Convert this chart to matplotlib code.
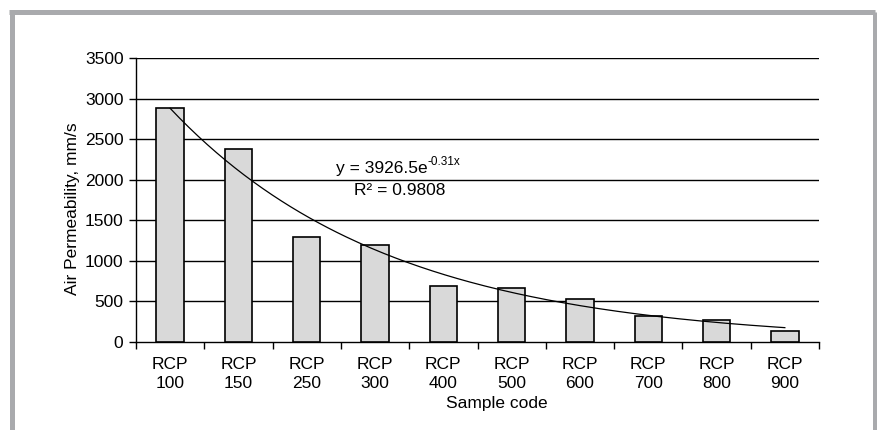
import numpy as np
import matplotlib
matplotlib.use("Agg")
import matplotlib.pyplot as plt
from matplotlib.lines import Line2D

plt.rcParams['font.family'] = ['Liberation Sans', 'DejaVu Sans']

categories = ["RCP\n100", "RCP\n150", "RCP\n250", "RCP\n300", "RCP\n400",
              "RCP\n500", "RCP\n600", "RCP\n700", "RCP\n800", "RCP\n900"]
values = [2880, 2380, 1300, 1200, 690, 670, 525, 315, 270, 140]
fit_a = 3926.5
fit_b = -0.31
yticks = [0, 500, 1000, 1500, 2000, 2500, 3000, 3500]

fig = plt.figure(figsize=(8.77, 4.30), dpi=100)
ax = fig.add_axes([136/877, 1-342/430, (819-136)/877, (342-58)/430])

x = np.arange(1, len(values) + 1)
ax.bar(x, values, width=0.4, color='#d9d9d9', edgecolor='black', linewidth=1.2, zorder=3)

xf = np.linspace(1, len(values), 200)
ax.plot(xf, fit_a * np.exp(fit_b * xf), color='black', linewidth=0.9, zorder=4)

ax.set_xlim(0.5, len(values) + 0.5)
ax.set_ylim(0, 3500)
ax.set_yticks(yticks)
ax.set_yticklabels([str(v) for v in yticks])
for v in yticks[1:]:
    ax.axhline(v, color='black', linewidth=1.0, zorder=1)

ax.set_xticks(x)
ax.set_xticklabels(categories, linespacing=1.35)
ax.set_xticks(np.arange(0.5, len(values) + 1.0, 1.0), minor=True)
ax.tick_params(axis='x', which='major', length=0, pad=11, labelsize=12.5)
ax.tick_params(axis='x', which='minor', length=5, width=1, direction='out')
ax.tick_params(axis='y', length=5, width=1, direction='out', pad=4, labelsize=12.5)

for s in ['top', 'right']:
    ax.spines[s].set_visible(False)
ax.spines['left'].set_linewidth(1.0)
ax.spines['bottom'].set_linewidth(1.0)

ax.set_xlabel("Sample code", fontsize=12.5)
ax.xaxis.set_label_coords(0.529, -0.19)
ax.set_ylabel("Air Permeability, mm/s", fontsize=12.5)
ax.yaxis.set_label_coords(-0.082, 0.47)

# trendline equation
ax.text(4.775, 2045, "y = 3926.5e", ha='right', va='bottom', fontsize=12.5, zorder=5)
ax.annotate("-0.31x", xy=(4.775, 2045), xytext=(0, 5.5), textcoords='offset points',
            ha='left', va='bottom', fontsize=8.5, zorder=5)
ax.text(4.36, 1960, "R² = 0.9808", ha='center', va='top', fontsize=12.5, zorder=5)

# outer gray frame
gray = '#a9aaad'
lw = 3.6
fig.add_artist(Line2D([11.5/877, 11.5/877], [0, 1-11.5/430], transform=fig.transFigure, color=gray, linewidth=lw, solid_capstyle='butt'))
fig.add_artist(Line2D([9/877, 875/877], [1-11.5/430, 1-11.5/430], transform=fig.transFigure, color=gray, linewidth=lw, solid_capstyle='butt'))
fig.add_artist(Line2D([875/877, 875/877], [0, 1-11.5/430], transform=fig.transFigure, color=gray, linewidth=lw, solid_capstyle='butt'))

fig.savefig("out.png", dpi=100)
